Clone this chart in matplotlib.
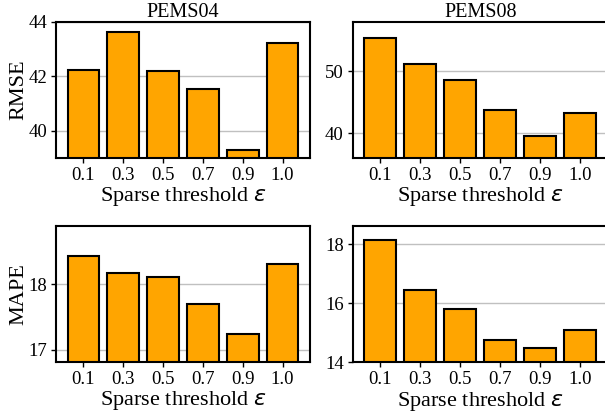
import matplotlib
matplotlib.use("Agg")
import matplotlib.pyplot as plt

plt.rcParams['font.family'] = ['Liberation Serif', 'DejaVu Sans']
plt.rcParams['mathtext.fontset'] = 'dejavusans'

thresholds = ['0.1', '0.3', '0.5', '0.7', '0.9', '1.0']

rmse_pems04 = [42.24, 43.62, 42.21, 41.53, 39.29, 43.23]
rmse_pems08 = [55.46, 51.24, 48.67, 43.79, 39.52, 43.20]
mape_pems04 = [18.42, 18.17, 18.10, 17.69, 17.23, 18.30]
mape_pems08 = [18.13, 16.43, 15.81, 14.77, 14.49, 15.09]

W, H = 605, 416
fig = plt.figure(figsize=(W / 100, H / 100), dpi=100)


def make_ax(x0, x1, y0, y1):
    # pixel box -> figure fraction
    return fig.add_axes([x0 / W, 1 - y1 / H, (x1 - x0) / W, (y1 - y0) / H])


panels = [
    (make_ax(56, 310, 22, 158), rmse_pems04, (39, 44), [40, 42, 44], 'RMSE', 'PEMS04'),
    (make_ax(352.7, 608, 22, 158), rmse_pems08, (36, 58), [40, 50], None, 'PEMS08'),
    (make_ax(56, 310, 225.7, 362), mape_pems04, (16.81, 18.89), [17, 18], 'MAPE', None),
    (make_ax(352.7, 608, 225.7, 362.3), mape_pems08, (14, 18.62), [14, 16, 18], None, None),
]

for ax, vals, ylim, yticks, ylabel, title in panels:
    ax.set_axisbelow(True)
    ax.yaxis.grid(True, color='#c0c0c0', linewidth=1)
    ax.bar(range(len(thresholds)), vals, width=0.8, color='orange',
           edgecolor='black', linewidth=1.5)
    ax.set_xticks(range(len(thresholds)))
    ax.set_xticklabels(thresholds)
    ax.set_ylim(*ylim)
    ax.set_yticks(yticks)
    ax.tick_params(labelsize=13.5, length=3.5, width=1, pad=3)
    for s in ax.spines.values():
        s.set_linewidth(1.5)
    ax.set_xlabel(r'Sparse threshold $\varepsilon$', fontsize=16, labelpad=1)
    if ylabel:
        ax.set_ylabel(ylabel, fontsize=16, labelpad=0)
    if title:
        ax.set_title(title, fontsize=14.5, pad=3)

fig.savefig('out.png', dpi=100)
